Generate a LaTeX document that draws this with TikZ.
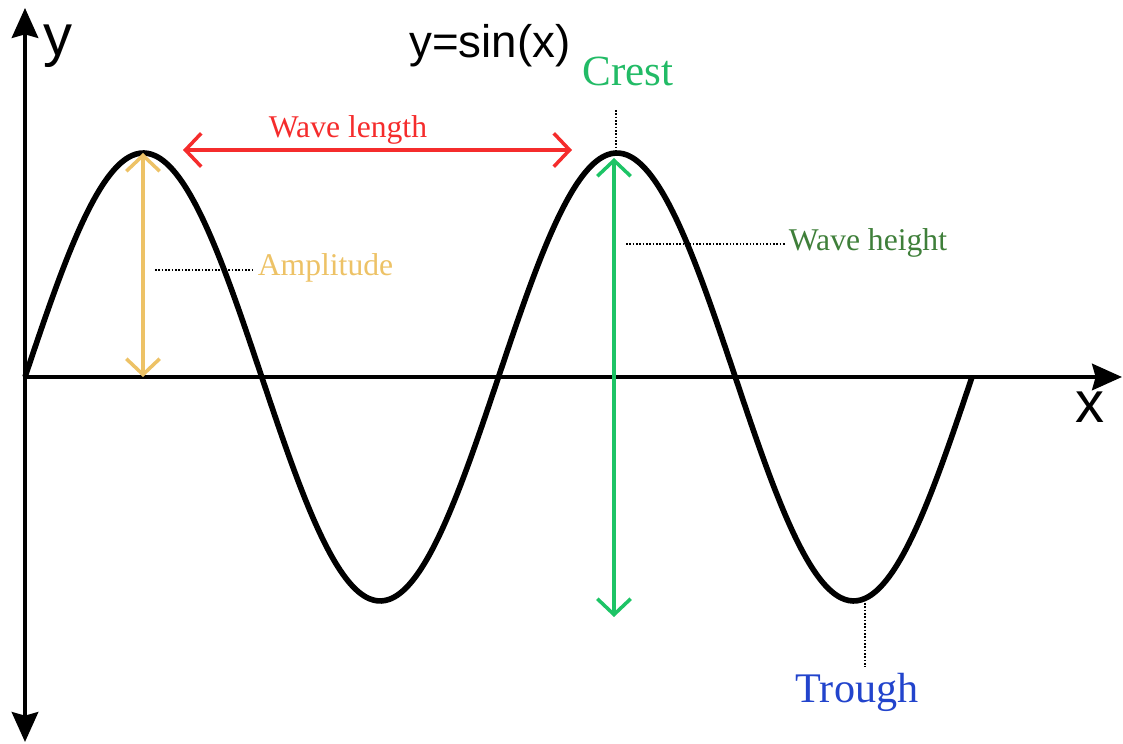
\documentclass[tikz,border=0pt]{standalone}
\usepackage{fontspec}
\setmainfont{Liberation Serif}
\setsansfont{Liberation Sans}
\usetikzlibrary{arrows.meta}
\definecolor{redText}{HTML}{F52C2C}
\definecolor{ampText}{HTML}{EDC266}
\definecolor{greenArrow}{HTML}{1DC466}
\definecolor{crestText}{HTML}{22BB66}
\definecolor{heightText}{HTML}{3F7F3A}
\definecolor{troughText}{HTML}{2244CC}

\begin{document}
\begin{tikzpicture}[
    axis/.style={line width=2.3pt},
    axtip/.tip={Stealth[length=17pt,width=15pt,inset=2pt]},
    measure/.style={line width=2pt, {Straight Barb[length=9pt,width=19pt]}-{Straight Barb[length=9pt,width=19pt]}},
    leader/.style={densely dotted, line width=0.9pt},
    label/.style={font=\fontsize{18}{20}\selectfont, inner sep=2pt},
    axlabel/.style={font=\sffamily\fontsize{33}{36}\selectfont, inner sep=0pt}]
    \def\A{4.48}
    \def\L{9.47}

    \useasboundingbox (-0.5,7.54) rectangle (21.96,-7.34);

    % ---------- axes ----------
    \coordinate (O) at (0,0);
    \coordinate (ytop) at (0,7.38);
    \coordinate (ybot) at (0,-7.3);
    \coordinate (xend) at (21.94,0);
    \draw[axis, axtip-axtip] (ybot) -- (ytop);
    \draw[axis, -axtip] (O) -- (xend);
    \node[axlabel] (ylab) at (0.66,6.62) {y};
    \node[axlabel] (xlab) at (21.3,-0.6) {x};
    \node[font=\sffamily\fontsize{26}{30}\selectfont] (title) at (9.3,6.62) {y=sin(x)};

    % ---------- wave ----------
    \draw[line width=3.2pt, line join=round]
        plot[domain=0:2*\L, samples=240, smooth] (\x, {\A*sin(\x/\L*360)});

    % ---------- wave length ----------
    \coordinate (wl1) at (3.16,4.54);
    \coordinate (wl2) at (10.94,4.54);
    \draw[measure, redText] (wl1) -- (wl2);
    \node[label, redText] (wlen) at (6.46,4.94) {Wave length};

    % ---------- amplitude ----------
    \coordinate (amp1) at (2.36,\A);
    \coordinate (amp2) at (2.36,0);
    \draw[measure, ampText] (amp1) -- (amp2);
    \coordinate (ampdot) at (2.6,2.14);
    \node[label, ampText, anchor=west] (amp) at (4.58,2.18) {Amplitude};
    \draw[leader] (ampdot) -- (ampdot -| amp.west);

    % ---------- crest and wave height ----------
    \node[font=\fontsize{24.5}{28}\selectfont, crestText] (crest) at (12.06,6.12) {Crest};
    \coordinate (peak) at (11.82,4.5);
    \coordinate (crestdot) at (11.82,5.34);
    \draw[leader] (crestdot) -- (peak);
    \coordinate (wh1) at (11.78,4.38);
    \coordinate (wh2) at (11.78,-4.8);
    \draw[measure, greenArrow] (wh1) -- (wh2);
    \coordinate (whdot) at (12.02,2.66);
    \node[label, heightText, anchor=west] (wh) at (15.2,2.68) {Wave height};
    \draw[leader] (whdot) -- (whdot -| wh.west);

    % ---------- trough ----------
    \coordinate (low) at (16.8,-4.52);
    \node[font=\fontsize{24}{28}\selectfont, troughText] (trough) at (16.64,-6.3) {Trough};
    \draw[leader] (low) -- (low |- trough.north);
\end{tikzpicture}
\end{document}
